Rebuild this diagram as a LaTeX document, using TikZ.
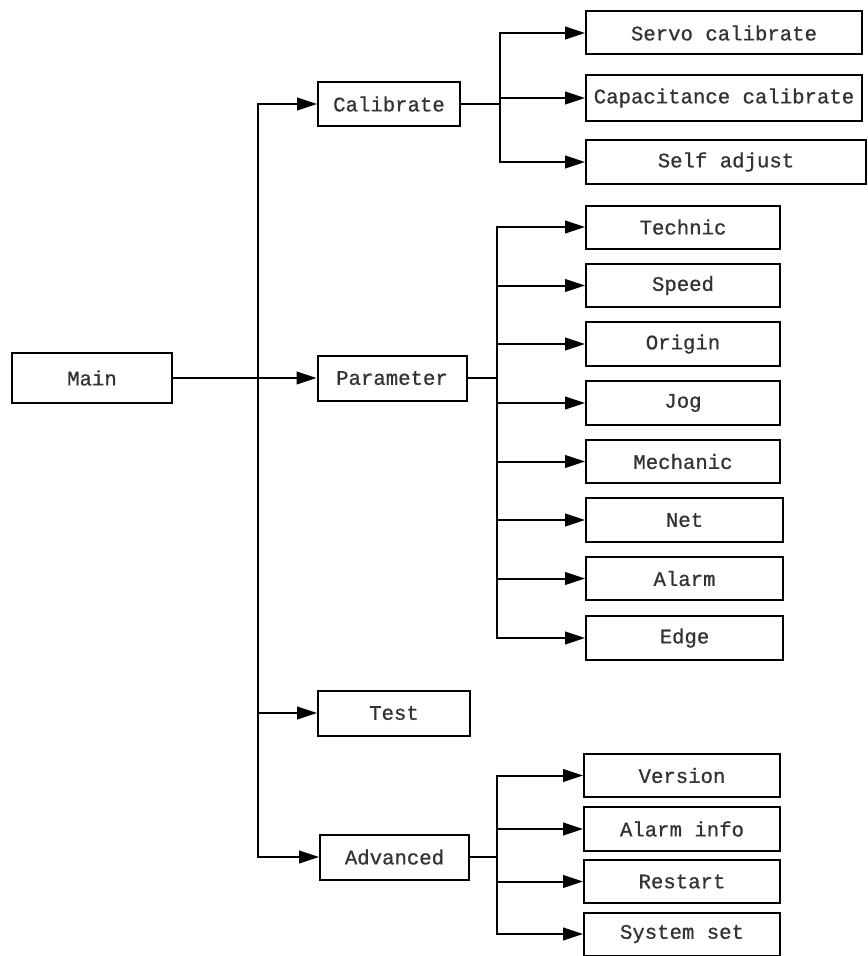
\documentclass[tikz,border=0pt]{standalone}
\usepackage{fontspec}
\setmonofont[FakeBold=0.8]{Liberation Mono}
\usetikzlibrary{arrows.meta}
\begin{document}
\begin{tikzpicture}[x=0.75pt,y=-0.75pt,
  box/.style={draw, line width=1.5pt, inner sep=0pt, font=\ttfamily\fontsize{15.5}{18}\selectfont, text=black!80},
  conn/.style={line width=1.5pt},
  arr/.style={line width=1.5pt, -{Triangle[length=15pt,width=9.5pt]}}]
\useasboundingbox (0,0) rectangle (867,956);
% nodes
\node[box, minimum width=120pt, minimum height=37.5pt] (main) at (92,378) {Main};
\node[box, minimum width=106.5pt, minimum height=33pt] (cal) at (389,104) {Calibrate};
\node[box, minimum width=111.75pt, minimum height=33.75pt] (par) at (392,378) {Parameter};
\node[box, minimum width=114pt, minimum height=33.75pt] (test) at (394,713) {Test};
\node[box, minimum width=111.75pt, minimum height=33.75pt] (adv) at (394.5,857) {Advanced};

\node[box, minimum width=207pt, minimum height=32.25pt] (srv) at (724,33) {Servo calibrate};
\node[box, minimum width=207pt, minimum height=33.75pt] (cap) at (724,98) {Capacitance calibrate};
\node[box, minimum width=210pt, minimum height=33pt] (self) at (726,162) {Self adjust};

\node[box, minimum width=145.5pt, minimum height=32.25pt] (tec) at (683,227) {Technic};
\node[box, minimum width=145.5pt, minimum height=32.25pt] (spd) at (683,285.5) {Speed};
\node[box, minimum width=145.5pt, minimum height=33pt] (ori) at (683,344) {Origin};
\node[box, minimum width=145.5pt, minimum height=33pt] (jog) at (683,403) {Jog};
\node[box, minimum width=145.5pt, minimum height=32.25pt] (mec) at (683,461.5) {Mechanic};
\node[box, minimum width=147.75pt, minimum height=33pt] (net) at (684.5,520) {Net};
\node[box, minimum width=147.75pt, minimum height=32.25pt] (alm) at (684.5,578.5) {Alarm};
\node[box, minimum width=147.75pt, minimum height=33pt] (edg) at (684.5,638) {Edge};

\node[box, minimum width=147pt, minimum height=32.25pt] (ver) at (682,775.5) {Version};
\node[box, minimum width=147pt, minimum height=33pt] (ainf) at (682,829) {Alarm info};
\node[box, minimum width=147pt, minimum height=32.25pt] (rst) at (682,881.5) {Restart};
\node[box, minimum width=147pt, minimum height=32.25pt] (sys) at (682,934) {System set};

% junctions
\coordinate (tr) at (258,378);
\coordinate (cj) at (500,104);
\coordinate (pj) at (497,378);
\coordinate (aj) at (497,857);

% main trunk
\draw[arr] (main.east) -- (par.west);
\draw[arr] (tr) |- (cal.west);
\draw[arr] (tr) |- (test.west);
\draw[arr] (tr) |- (adv.west);

% calibrate branch
\draw[conn] (cal.east) -- (cj);
\draw[arr] (cj) |- (srv.west);
\draw[arr] (cj) |- (cap.west);
\draw[arr] (cj) |- (self.west);

% parameter branch
\draw[conn] (par.east) -- (pj);
\foreach \n in {tec,spd,ori,jog,mec,net,alm,edg}
  \draw[arr] (pj) |- (\n.west);

% advanced branch
\draw[conn] (adv.east) -- (aj);
\foreach \n in {ver,ainf,rst,sys}
  \draw[arr] (aj) |- (\n.west);
\end{tikzpicture}
\end{document}
